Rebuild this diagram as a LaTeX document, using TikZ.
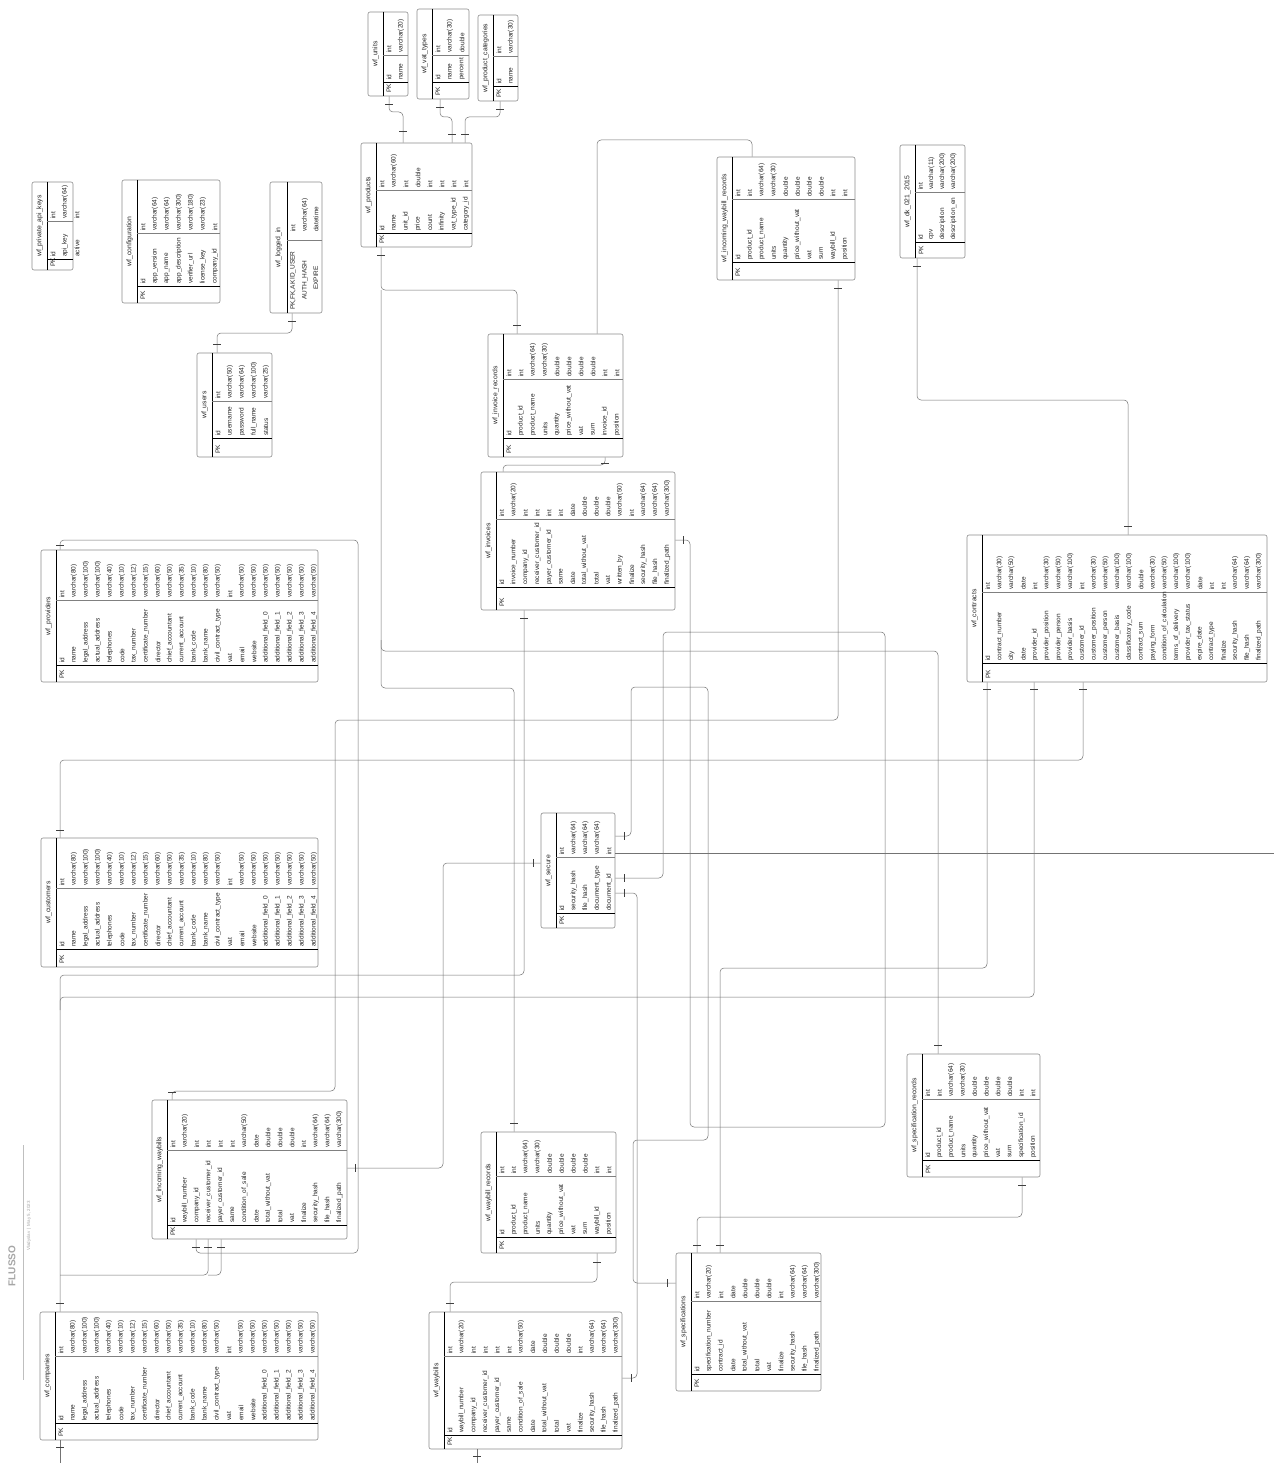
\documentclass[tikz,border=0pt]{standalone}
\usepackage{fontspec}
\setmainfont{Liberation Sans}
\usetikzlibrary{fit}
\tikzset{
 tbl/.style={draw=black!45, line width=0.6pt, rounded corners=2pt, inner sep=0pt},
 tsepl/.style={draw=black, line width=0.6pt},
 ksepl/.style={draw=black, line width=0.8pt},
 nsepl/.style={draw=black!50, line width=0.4pt},
 ttl/.style={rotate=90, font=\fontsize{6.8}{8}\selectfont, text=black!85, inner sep=0pt},
 fld/.style={rotate=90, anchor=west, font=\fontsize{6.5}{8}\selectfont, text=black!85, inner sep=0pt},
 conn/.style={draw=black!55, line width=0.5pt, rounded corners=4pt},
 tick/.style={draw=black!75, line width=0.6pt},
}
\newcommand{\tkh}[2]{\draw[tick] ({#1-4},#2) -- ({#1+4},#2);}
\newcommand{\tkv}[2]{\draw[tick] (#1,{#2-4}) -- (#1,{#2+4});}
\def\pitch{11.9}
\newcommand{\ertab}[9]{%
 \node[tbl, fit={(#2,#3) (#4,#5)}] (#1) {};
 \draw[tsepl] ({#2+15},#3) -- ({#2+15},#5);
 \draw[nsepl] ({#2+15},#6) -- (#4,#6);
 \draw[ksepl] ({#2+15},#7) -- (#4,#7);
 \node[ttl] (#1-t) at ({#2+7.5},{(#3+#5)/2}) {#8};
 \node[fld] (#1-pk) at ({#2+21},{#5-3}) {PK};
 \foreach \fn/\ft [count=\i] in #9 {
   \node[fld] (#1-n\i) at ({#2+15+\pitch*\i-\pitch/2},{#7-2}) {\fn};
   \node[fld] (#1-y\i) at ({#2+15+\pitch*\i-\pitch/2},{#6-2}) {\ft};
 }
}
\def\complist{id/int, name/varchar(80), legal\_address/varchar(100), actual\_address/varchar(100), telephones/varchar(40), code/varchar(10), tax\_number/varchar(12), certificate\_number/varchar(15), director/varchar(60), chief\_accountant/varchar(50), current\_account/varchar(35), bank\_code/varchar(10), bank\_name/varchar(80), civil\_contract\_type/varchar(50), vat/int, email/varchar(50), website/varchar(50), additional\_field\_0/varchar(50), additional\_field\_1/varchar(50), additional\_field\_2/varchar(50), additional\_field\_3/varchar(50), additional\_field\_4/varchar(50)}
\def\doclist{id/int, waybill\_number/varchar(20), company\_id/int, receiver\_customer\_id/int, payer\_customer\_id/int, same/int, condition\_of\_sale/varchar(50), date/date, total\_without\_vat/double, total/double, vat/double, finalize/int, security\_hash/varchar(64), file\_hash/varchar(64), finalized\_path/varchar(300)}
\begin{document}
\begin{tikzpicture}[x=1pt,y=-1pt]
\fill[white] (0,0) rectangle (1274,1463);
\useasboundingbox (0,0) rectangle (1274,1463);

\def\pitch{12}
\ertab{units}{368}{12}{408}{96}{55}{82}{wf\_units}{{id/int, name/varchar(20)}}
\ertab{vattypes}{417}{9}{469}{99}{55}{82}{wf\_vat\_types}{{id/int, name/varchar(30), percent/double}}
\ertab{prodcat}{478}{15}{518}{101}{56}{86}{wf\_product\_categories}{{id/int, name/varchar(30)}}
\ertab{products}{361}{143}{472}{247}{190}{233}{wf\_products}{{id/int, name/varchar(60), unit\_id/int, price/double, count/int, infinity/int, vat\_type\_id/int, category\_id/int}}
\def\pitch{11.9}
\ertab{incwbrec}{717}{157}{855}{280}{199}{262}{wf\_incoming\_waybill\_records}{{id/int, product\_id/int, product\_name/varchar(64), units/varchar(30), quantity/double, price\_without\_vat/double, vat/double, sum/double, waybill\_id/int, position/int}}
\def\pitch{12}
\ertab{apikeys}{32}{182}{73}{270}{221}{259}{wf\_private\_api\_keys}{{id/int, api\_key/varchar(64), active/int}}
\ertab{config}{122}{180}{220}{303}{233}{286}{wf\_configuration}{{id/int, app\_version/varchar(64), app\_name/varchar(64), app\_description/varchar(300), verifier\_url/varchar(180), license\_key/varchar(23), company\_id/int}}
\ertab{users}{197}{353}{272}{457}{401}{438}{wf\_users}{{id/int, username/varchar(50), password/varchar(64), full\_name/varchar(100), status/varchar(25)}}
\ertab{invrec}{488}{334}{623}{457}{379}{438}{wf\_invoice\_records}{{id/int, product\_id/int, product\_name/varchar(64), units/varchar(30), quantity/double, price\_without\_vat/double, vat/double, sum/double, invoice\_id/int, position/int}}
\def\pitch{11.8}
\ertab{invoices}{481}{472}{675}{610}{519}{587}{wf\_invoices}{{id/int, invoice\_number/varchar(20), company\_id/int, receiver\_customer\_id/int, payer\_customer\_id/int, same/int, date/date, total\_without\_vat/double, total/double, vat/double, written\_by/varchar(50), finalize/int, security\_hash/varchar(64), file\_hash/varchar(64), finalized\_path/varchar(300)}}
\def\pitch{11.78}
\ertab{contracts}{967}{535}{1267}{682}{592}{663}{wf\_contracts}{{id/int, contract\_number/varchar(30), city/varchar(50), date/date, provider\_id/int, provider\_position/varchar(30), provider\_person/varchar(50), provider\_basis/varchar(100), customer\_id/int, customer\_position/varchar(30), customer\_person/varchar(50), customer\_basis/varchar(100), classificatory\_code/varchar(100), contract\_sum/double, paying\_form/varchar(30), condition\_of\_calculation/varchar(50), terms\_of\_delivery/varchar(100), provider\_tax\_status/varchar(100), expire\_date/date, contract\_type/int, finalize/int, security\_hash/varchar(64), file\_hash/varchar(64), finalized\_path/varchar(300)}}
\def\pitch{12}
\ertab{providers}{41}{550}{318}{682}{600}{665}{wf\_providers}{\complist}
\ertab{customers}{41}{838}{318}{967}{888}{949}{wf\_customers}{\complist}
\ertab{companies}{40}{1312}{318}{1440}{1356}{1423}{wf\_companies}{\complist}
\def\pitch{11.8}
\ertab{secure}{541}{813}{615}{928}{857}{913}{wf\_secure}{{id/int, security\_hash/varchar(64), file\_hash/varchar(64), document\_type/varchar(64), document\_id/int}}
\def\pitch{11}
\ertab{dk}{900}{145}{965}{258}{192}{242}{wf\_dk\_021\_2015}{{id/int, cpv/varchar(11), description/varchar(200), description\_en/varchar(200)}}
\def\pitch{11.7}
\ertab{specrec}{907}{1054}{1040}{1177}{1099}{1160}{wf\_specification\_records}{{id/int, product\_id/int, product\_name/varchar(64), units/varchar(30), quantity/double, price\_without\_vat/double, vat/double, sum/double, specification\_id/int, position/int}}
\def\pitch{11.9}
\ertab{wbrec}{481}{1132}{616}{1253}{1176}{1237}{wf\_waybill\_records}{{id/int, product\_id/int, product\_name/varchar(64), units/varchar(30), quantity/double, price\_without\_vat/double, vat/double, sum/double, waybill\_id/int, position/int}}
\ertab{incwb}{152}{1100}{347}{1239}{1150}{1225}{wf\_incoming\_waybills}{\doclist}
\def\pitch{11.85}
\ertab{waybills}{429}{1312}{622}{1449}{1356}{1435}{wf\_waybills}{\doclist}
\def\pitch{12}
\ertab{specs}{676}{1253}{821}{1391}{1301}{1374}{wf\_specifications}{{id/int, specification\_number/varchar(20), contract\_id/int, date/date, total\_without\_vat/double, total/double, vat/double, finalize/int, security\_hash/varchar(64), file\_hash/varchar(64), finalized\_path/varchar(300)}}

% logged in
\node[tbl, fit={(270,182) (322,313)}] (logged) {};
\draw[tsepl] (287,182) -- (287,313);
\draw[nsepl] (287,240) -- (322,240);
\node[ttl] (logged-t) at (278.5,247.5) {wf\_logged\_in};
\node[fld] (logged-k) at (293,310) {PK,FK,AK};
\node[fld] (logged-n1) at (293,280) {ID\_USER};
\node[fld] (logged-y1) at (293,232) {int};
\node[fld, anchor=center] (logged-n2) at (305,280) {AUTH\_HASH};
\node[fld] (logged-y2) at (305,232) {varchar(64)};
\node[fld, anchor=center] (logged-n3) at (316,278) {EXPIRE};
\node[fld] (logged-y3) at (316,232) {datetime};

% brand
\draw[black!25, line width=0.5pt] (23,1145) -- (23,1380);
\node[rotate=90, font=\bfseries\fontsize{10}{12}\selectfont, text=black!35] (brand) at (12,1266) {FLUSSO};
\node[rotate=90, font=\fontsize{4.5}{5}\selectfont, text=black!35] (brandsub) at (29,1226) {Vladyslav \,|\, May 5, 2023};

% connectors
\draw[conn] (units.south -| 389,0) -- (389,112) -- (403,112) -- (403,0 |- products.north);
\tkh{389}{104} \tkh{403}{131}
\draw[conn] (vattypes.south -| 440,0) -- (440,117) -- (452,117) -- (452,0 |- products.north);
\tkh{440}{107} \tkh{452}{134}
\draw[conn] (prodcat.south -| 500,0) -- (500,117) -- (465,117) -- (465,0 |- products.north);
\tkh{500}{109} \tkh{465}{134}
\draw[conn] (logged.south -| 292,0) -- (292,333) -- (217,333) -- (217,0 |- users.north);
\tkh{292}{321} \tkh{217}{344}
\draw[conn] (products.south -| 381,0) -- (381,290) -- (517,290) -- (517,0 |- invrec.north);
\tkh{381}{255} \tkh{517}{325}
\draw[conn] (381,290) -- (381,688) -- (514,688) -- (514,0 |- wbrec.north);
\tkh{514}{1123}
\draw[conn] (381,640) -- (381,651) -- (938,651) -- (938,0 |- specrec.north);
\tkh{938}{1045}
\draw[conn] (invrec.south -| 605,0) -- (605,465) -- (503,465) -- (503,0 |- invoices.north);
\tkh{605}{463}
\draw[conn] (invoices.south -| 524,0) -- (524,975) -- (60,975) -- (60,0 |- companies.north);
\tkh{524}{618} \tkh{60}{1303}
\draw[conn] (contracts.south -| 1034,0) -- (1034,997) -- (60,997) -- (60,1010);
\tkh{1034}{689}
\draw[conn] (incwbrec.south -| 838,0) -- (838,720) -- (335,720) -- (335,1091) -- (172,1091) -- (172,0 |- incwb.north);
\tkh{838}{288} \tkh{172}{1092}
\draw[conn] (dk.south -| 917,0) -- (917,400) -- (1128,400) -- (1128,0 |- contracts.north);
\tkh{917}{266} \tkh{1128}{526}
\draw[conn] (providers.north -| 60,0) -- (60,540) -- (358,540) -- (358,1253) -- (196,1253) -- (196,0 |- incwb.south);
\tkh{60}{545} \tkh{196}{1247}
\draw[conn] (customers.north -| 60,0) -- (60,760) -- (1083,760) -- (1083,0 |- contracts.south);
\tkh{60}{830} \tkh{1083}{689}
\draw[conn] (incwb.south -| 208,0) -- (208,1275) -- (60,1275);
\draw[conn] (incwb.south -| 221,0) -- (221,1275) -- (208,1275);
\tkh{208}{1247} \tkh{221}{1247}
\draw[conn] (secure.east |- 0,853) -- (1274,853);
\draw[conn] (specrec.south -| 1022,0) -- (1022,1217) -- (697,1217) -- (697,0 |- specs.north);
\tkh{1022}{1185} \tkh{697}{1245}
\draw[conn] (secure.west |- 0,863) -- (443,863) -- (443,1168) -- (incwb.east |- 0,1168);
\tkv{533}{863} \tkv{355}{1168}
\draw[conn] (wbrec.south -| 597,0) -- (597,1282) -- (450,1282) -- (450,0 |- waybills.north);
\tkh{597}{1262} \tkh{450}{1303}
\draw[conn] (secure.east |- 0,836) -- (631,836) -- (631,687) -- (708,687) -- (708,1140) -- (633,1140) -- (633,1283) -- (specs.west |- 0,1283);
\tkv{624}{836} \tkv{667}{1283}
\draw[conn] (secure.east |- 0,878) -- (663,878) -- (663,632) -- (885,632) -- (885,1127) -- (690,1127) -- (690,540) -- (invoices.east |- 0,540);
\tkv{624}{878} \tkv{683}{540}
\draw[conn] (secure.east |- 0,893) -- (637,893) -- (637,1378) -- (waybills.east |- 0,1378);
\tkv{624}{893} \tkv{631}{1378}
\draw[conn] (contracts.south -| 987,0) -- (987,968) -- (720,968) -- (720,0 |- specs.north);
\tkh{987}{689} \tkh{720}{1245}
\draw[conn] (incwbrec.north -| 752,0) -- (752,140) -- (597,140) -- (597,0 |- invrec.north);
\draw[conn] (companies.south -| 60,0) -- (60,1463);
\tkh{60}{1447}
\draw[conn] (waybills.south -| 477,0) -- (477,1463);
\tkh{477}{1456}
\end{tikzpicture}
\end{document}
